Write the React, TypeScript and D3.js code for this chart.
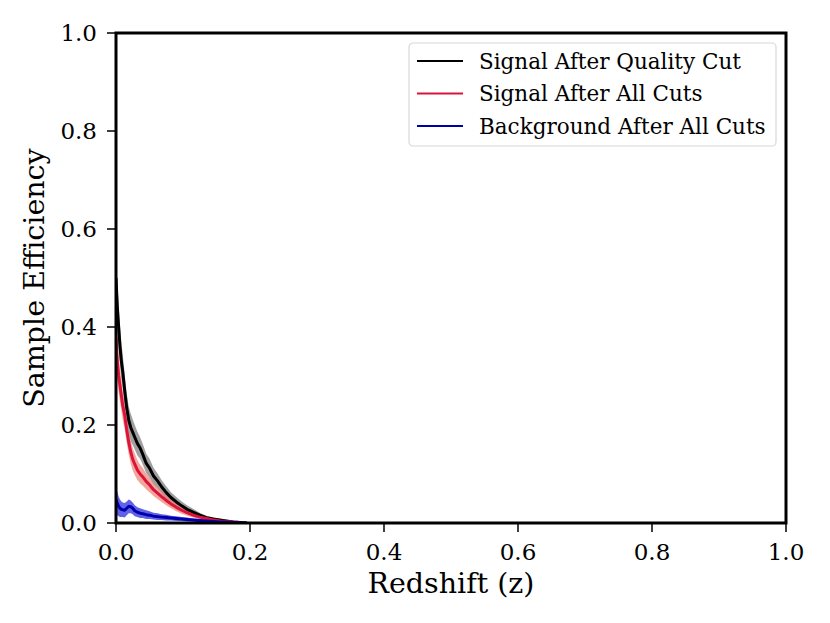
import React from 'react'
import * as d3 from 'd3'

const redshift = [0, 0.002, 0.004, 0.006, 0.008, 0.010, 0.013, 0.016, 0.019, 0.022, 0.025, 0.028, 0.032, 0.036, 0.040, 0.045, 0.050, 0.056, 0.062, 0.068, 0.075, 0.082, 0.090, 0.098, 0.106, 0.115, 0.125, 0.135, 0.145, 0.155, 0.165, 0.175, 0.185, 0.195]

const qualityEff = [0.50, 0.44, 0.40, 0.36, 0.33, 0.31, 0.27, 0.235, 0.21, 0.195, 0.185, 0.175, 0.162, 0.153, 0.140, 0.122, 0.112, 0.096, 0.086, 0.074, 0.062, 0.052, 0.043, 0.035, 0.028, 0.022, 0.016, 0.011, 0.008, 0.006, 0.004, 0.002, 0.001, 0.0]
const qualityErr = [0.05, 0.05, 0.045, 0.04, 0.038, 0.035, 0.032, 0.03, 0.028, 0.028, 0.026, 0.025, 0.024, 0.022, 0.021, 0.02, 0.019, 0.017, 0.015, 0.014, 0.013, 0.011, 0.01, 0.009, 0.008, 0.007, 0.005, 0.004, 0.003, 0.002, 0.0015, 0.001, 0.0005, 0]

const signalEff = [0.38, 0.33, 0.30, 0.28, 0.26, 0.24, 0.22, 0.19, 0.165, 0.145, 0.13, 0.12, 0.108, 0.10, 0.094, 0.085, 0.078, 0.068, 0.061, 0.054, 0.046, 0.039, 0.032, 0.026, 0.021, 0.016, 0.012, 0.009, 0.006, 0.004, 0.003, 0.002, 0.001, 0]
const signalErr = [0.04, 0.036, 0.034, 0.032, 0.03, 0.029, 0.028, 0.026, 0.025, 0.024, 0.023, 0.022, 0.02, 0.019, 0.018, 0.016, 0.015, 0.013, 0.012, 0.011, 0.01, 0.009, 0.008, 0.007, 0.006, 0.005, 0.004, 0.003, 0.0025, 0.002, 0.0015, 0.001, 0.0005, 0]

const bkgEff = [0.048, 0.04, 0.034, 0.03, 0.028, 0.027, 0.026, 0.03, 0.034, 0.033, 0.03, 0.025, 0.022, 0.02, 0.019, 0.017, 0.016, 0.014, 0.013, 0.012, 0.011, 0.010, 0.009, 0.008, 0.007, 0.006, 0.005, 0.004, 0.003, 0.002, 0.002, 0.001, 0.001, 0]
const bkgErr = [0.03, 0.024, 0.02, 0.018, 0.016, 0.015, 0.015, 0.014, 0.014, 0.013, 0.012, 0.011, 0.01, 0.01, 0.009, 0.009, 0.008, 0.007, 0.007, 0.006, 0.006, 0.005, 0.005, 0.004, 0.004, 0.003, 0.003, 0.002, 0.002, 0.0015, 0.001, 0.001, 0.0005, 0]

const ticks = [0, 0.2, 0.4, 0.6, 0.8, 1.0]

const series = [
  { label: 'Signal After Quality Cut', eff: qualityEff, err: qualityErr, line: '#000000', band: '#808080', bandOpacity: 0.75 },
  { label: 'Signal After All Cuts', eff: signalEff, err: signalErr, line: '#dc143c', band: '#f08070', bandOpacity: 0.7 },
  { label: 'Background After All Cuts', eff: bkgEff, err: bkgErr, line: '#0000aa', band: '#2020e0', bandOpacity: 0.7 },
]

const W = 830
const H = 623
const margin = { top: 33, right: 44, bottom: 100, left: 116 }
const innerW = W - margin.left - margin.right
const innerH = H - margin.top - margin.bottom
const font = '"DejaVu Serif", serif'

export default function App() {
  const x = d3.scaleLinear().domain([0, 1]).range([0, innerW])
  const y = d3.scaleLinear().domain([0, 1]).range([innerH, 0])

  const line = (vals: number[]) =>
    d3.line<number>().x((_, i) => x(redshift[i])).y(d => y(d))(vals) ?? ''
  const band = (vals: number[], err: number[]) =>
    d3.area<number>()
      .x((_, i) => x(redshift[i]))
      .y0((d, i) => y(Math.max(0, d - err[i])))
      .y1((d, i) => y(d + err[i]))(vals) ?? ''

  return (
    <div style={{ position: 'absolute', left: 0, top: 0 }}>
      <svg width={W} height={H} style={{ display: 'block', background: '#fff' }} fontFamily={font}>
        <defs>
          <clipPath id="plot-clip">
            <rect x={0} y={0} width={innerW} height={innerH} />
          </clipPath>
        </defs>
        <g transform={`translate(${margin.left},${margin.top})`}>
          <g clipPath="url(#plot-clip)">
            {series.map(s => (
              <path key={s.label + '-band'} d={band(s.eff, s.err)} fill={s.band} fillOpacity={s.bandOpacity} />
            ))}
            {series.map(s => (
              <path key={s.label} d={line(s.eff)} fill="none" stroke={s.line} strokeWidth={3} strokeLinejoin="round" />
            ))}
          </g>

          {/* x ticks */}
          {ticks.map(t => (
            <g key={'x' + t} transform={`translate(${x(t)},${innerH})`}>
              <line y2={9} stroke="#000" strokeWidth={1.5} />
              <text y={37} textAnchor="middle" fontSize={23}>{t.toFixed(1)}</text>
            </g>
          ))}
          {/* y ticks */}
          {ticks.map(t => (
            <g key={'y' + t} transform={`translate(0,${y(t)})`}>
              <line x2={-9} stroke="#000" strokeWidth={1.5} />
              <text x={-19} dy="0.36em" textAnchor="end" fontSize={23}>{t.toFixed(1)}</text>
            </g>
          ))}

          <rect x={0} y={0} width={innerW} height={innerH} fill="none" stroke="#000" strokeWidth={3} />

          <text x={innerW / 2} y={innerH + 70} textAnchor="middle" fontSize={28.5}>Redshift (z)</text>
          <text transform={`translate(${-72},${innerH / 2}) rotate(-90)`} textAnchor="middle" fontSize={28.5}>Sample Efficiency</text>

          {/* legend */}
          <g transform={`translate(${409 - margin.left},${43 - margin.top})`}>
            <rect x={0} y={0} width={367} height={103} rx={4} fill="#fff" fillOpacity={0.8} stroke="#d8d8d8" strokeWidth={1.2} />
            {series.map((s, i) => (
              <g key={s.label + '-leg'} transform={`translate(0,${18 + i * 32.5})`}>
                <line x1={8} x2={54} stroke={s.line} strokeWidth={2.2} />
                <text x={70} dy="0.35em" fontSize={21.5}>{s.label}</text>
              </g>
            ))}
          </g>
        </g>
      </svg>
    </div>
  )
}
